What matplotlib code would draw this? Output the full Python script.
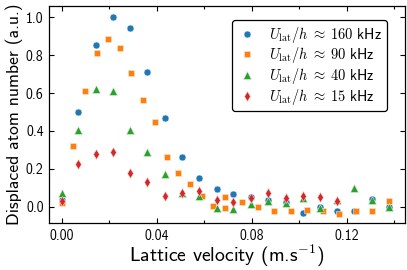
import matplotlib
matplotlib.use("Agg")
import matplotlib.pyplot as plt

plt.rcParams['font.family'] = ['cmss10', 'DejaVu Sans']
plt.rcParams['mathtext.fontset'] = 'cm'
plt.rcParams['axes.unicode_minus'] = False
plt.rcParams['axes.formatter.use_mathtext'] = False

v_160 = [0.0, 0.0071, 0.0144, 0.0217, 0.0288, 0.036, 0.0434, 0.0507, 0.058, 0.0653,
         0.0723, 0.0797, 0.087, 0.0943, 0.1015, 0.1088, 0.116, 0.123, 0.1306, 0.138]
n_160 = [0.035, 0.50, 0.856, 0.999, 0.946, 0.713, 0.469, 0.264, 0.150, 0.092,
         0.069, 0.05, 0.035, 0.027, -0.035, -0.003, -0.021, -0.024, 0.039, 0.0]

v_90 = [0.0, 0.0046, 0.0097, 0.0147, 0.0196, 0.0245, 0.0293, 0.0344, 0.0393, 0.0442,
        0.049, 0.054, 0.059, 0.0638, 0.0688, 0.0688, 0.0758, 0.0825, 0.0895, 0.0965,
        0.1032, 0.1101, 0.1169, 0.1238, 0.1308, 0.1377]
n_90 = [0.021, 0.32, 0.613, 0.814, 0.886, 0.84, 0.705, 0.564, 0.449, 0.264,
        0.176, 0.118, 0.058, 0.004, 0.053, -0.005, 0.022, 0.0, -0.021, -0.021,
        -0.017, -0.025, -0.039, -0.025, -0.025, 0.032]

v_40 = [0.0, 0.0071, 0.0144, 0.0217, 0.0288, 0.036, 0.0434, 0.0507, 0.058, 0.0653,
        0.0723, 0.0797, 0.087, 0.0943, 0.1015, 0.1088, 0.116, 0.123, 0.1306, 0.138]
n_40 = [0.07, 0.405, 0.623, 0.61, 0.405, 0.289, 0.171, 0.071, 0.057, -0.005,
        -0.012, 0.014, 0.032, 0.021, 0.044, -0.005, 0.035, 0.097, 0.035, 0.0]

v_15 = [0.0, 0.0071, 0.0144, 0.0217, 0.0288, 0.036, 0.0434, 0.0507, 0.058, 0.0653,
        0.0723, 0.0797, 0.087, 0.0943, 0.1015, 0.1088, 0.116]
n_15 = [0.032, 0.226, 0.278, 0.287, 0.176, 0.132, 0.057, 0.071, 0.085, 0.035,
        0.023, 0.044, 0.071, 0.044, 0.058, 0.053, 0.032]

labels = [r'$U_\mathrm{lat}/h \;\approx\; \mathsf{160}$ kHz',
          r'$U_\mathrm{lat}/h \;\approx\; \mathsf{90}$ kHz',
          r'$U_\mathrm{lat}/h \;\approx\; \mathsf{40}$ kHz',
          r'$U_\mathrm{lat}/h \;\approx\; \mathsf{15}$ kHz']

x_ticks = [0.0, 0.04, 0.08, 0.12]
y_ticks = [0.0, 0.2, 0.4, 0.6, 0.8, 1.0]

fig = plt.figure(figsize=(4.07, 2.70), dpi=100)
ax = fig.add_axes([0.121, 0.173, 0.8753, 0.805])

ax.plot(v_160, n_160, 'o', color='#1f77b4', ms=5.0, mew=0.4, mec='#e8f0f8', label=labels[0])
ax.plot(v_90, n_90, 's', color='#ff7f0e', ms=5.0, mew=0.4, mec='#ffe8d0', label=labels[1])
ax.plot(v_40, n_40, '^', color='#2ca02c', ms=5.2, mew=0.4, mec='#e0f0e0', label=labels[2])
ax.plot(v_15, n_15, 'd', color='#d62728', ms=5.4, mew=0.4, mec='#f8e0e0', label=labels[3])

ax.set_xlim(-0.0052, 0.1448)
ax.set_ylim(-0.088, 1.06)
ax.set_xticks(x_ticks)
ax.set_xticklabels(['%.2f' % t for t in x_ticks])
ax.set_xticks([0.02, 0.06, 0.10, 0.14], minor=True)
ax.set_yticks(y_ticks)
ax.set_yticklabels(['%.1f' % t for t in y_ticks])
ax.tick_params(which='both', direction='in', top=True, right=True, labelsize=10, width=0.8)
ax.tick_params(which='major', length=3.5, pad=4)
ax.tick_params(which='minor', length=2)
for s in ax.spines.values():
    s.set_linewidth(0.9)

ax.set_xlabel(r'Lattice velocity (m.s$^{\mathsf{-1}}$)', fontsize=14.2, labelpad=0)
ax.set_ylabel('Displaced atom number (a.u.)', fontsize=12.7, labelpad=2)

leg = ax.legend(loc='upper right', bbox_to_anchor=(0.947, 0.9356), fontsize=10.4,
                frameon=True, fancybox=True, framealpha=1, edgecolor='black',
                handletextpad=0.75, borderpad=0.32, labelspacing=0.05, handlelength=1.5,
                borderaxespad=0)
leg.get_frame().set_linewidth(0.9)

fig.savefig('out.png', dpi=100)
